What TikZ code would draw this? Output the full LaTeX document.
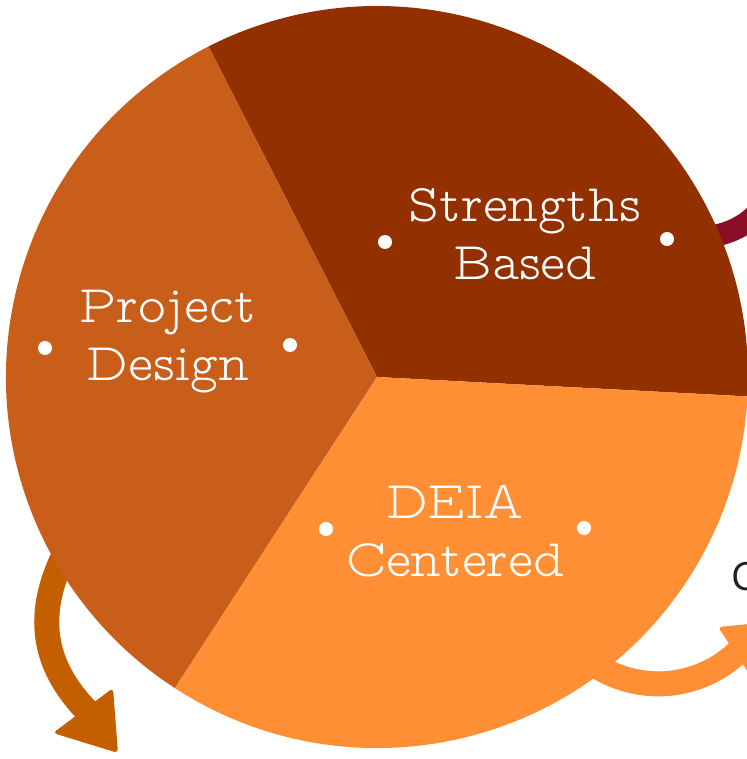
\documentclass[tikz,border=0pt]{standalone}
\usepackage{fontspec}
\setmainfont{Latin Modern Mono Prop Light}
\newfontfamily\labelfont{Open Sans}
\usepackage{tikz}
\definecolor{sectdark}{RGB}{146,48,0}
\definecolor{sectmid}{RGB}{200,94,26}
\definecolor{sectlight}{RGB}{255,143,53}
\definecolor{arrowdark}{RGB}{196,95,0}
\definecolor{arrowred}{RGB}{140,13,38}
\tikzset{
  sectlabel/.style={text=white,align=center,inner sep=0pt,font=\fontsize{53}{58}\selectfont},
  dot/.style={fill=white}
}
\begin{document}
\begin{tikzpicture}[line cap=round,line join=round,x=1.0pt,y=-1.0pt]
\useasboundingbox (0,0) rectangle (746,759);

% arrows behind the circle
\draw [color=arrowred,line width=22pt,line cap=butt] (680,240) .. controls (725,238) and (752,228) .. (770,195);
\draw [color=arrowdark,line width=25pt,line cap=butt] (75,535) .. controls (30,610) and (42,665) .. (88,712);
\fill [color=arrowdark,rounded corners=4pt] (53,733) -- (113,688) -- (118,753) -- cycle;
\draw [color=sectlight,line width=25pt,line cap=butt] (575,650) .. controls (630,700) and (700,690) .. (740,650);
\fill [color=sectlight,rounded corners=4pt] (718,627) -- (790,620) -- (760,690) -- cycle;

% the three sectors (angles as seen on the page)
\coordinate (c) at (377,377);
\fill [color=sectdark] (c) -- ++(-3:371pt) arc (-3:117:371pt) -- cycle;
\fill [color=sectmid] (c) -- ++(117:371pt) arc (117:237:371pt) -- cycle;
\fill [color=sectlight] (c) -- ++(237:371pt) arc (237:357:371pt) -- cycle;

% labels
\node [sectlabel] (strengths) at (525,234) {Strengths\\Based};
\node [sectlabel] (project) at (168,342) {Project\\Design};
\node [sectlabel] (deia) at (455,531) {DEIA\\Centered};
\fill [dot] (385,242) circle (7pt);
\fill [dot] (667,239) circle (7pt);
\fill [dot] (45,348) circle (7pt);
\fill [dot] (290,345) circle (7pt);
\fill [dot] (326,529) circle (7pt);
\fill [dot] (584,528) circle (7pt);

\node [anchor=base west,inner sep=0pt,text={rgb,255:red,34;green,34;blue,34},font=\labelfont\fontsize{39}{39}\selectfont] (nextlabel) at (731,590) {C};
\end{tikzpicture}
\end{document}
